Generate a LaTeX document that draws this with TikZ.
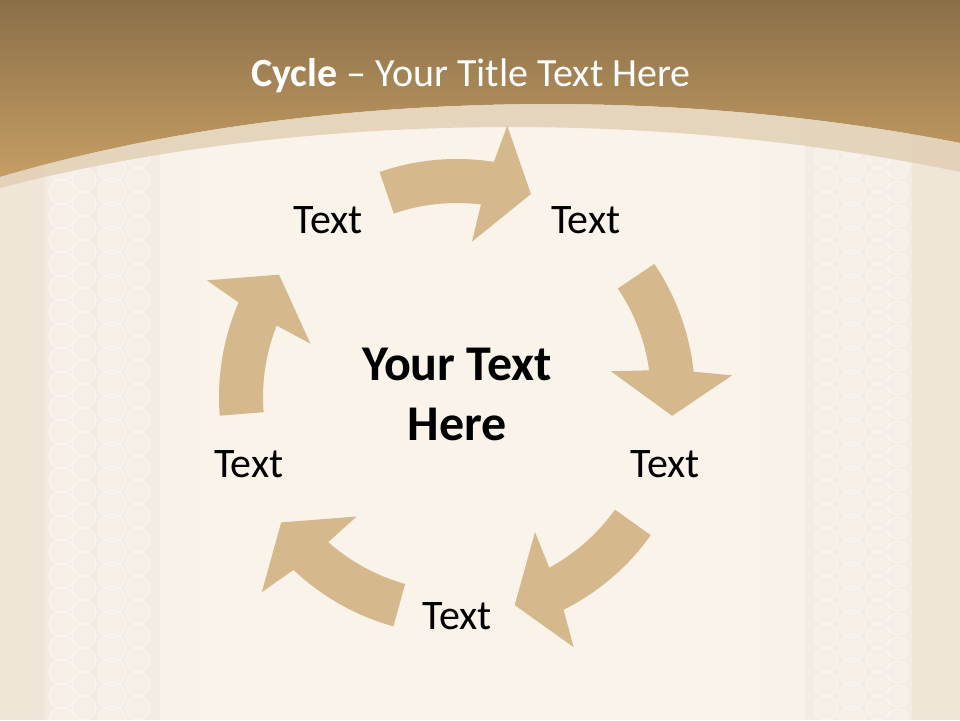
\documentclass[tikz,border=0pt]{standalone}
\usepackage{fontspec}
\setmainfont{Carlito}
\definecolor{arrowtan}{RGB}{213,185,140}
\definecolor{bandtop}{RGB}{138,111,72}
\definecolor{bandbottom}{RGB}{198,158,100}
\definecolor{bandlight}{RGB}{224,206,178}
\definecolor{paper}{RGB}{249,243,234}
\definecolor{paperdark}{RGB}{239,230,216}
\definecolor{lacebase}{RGB}{243,236,226}
\definecolor{stripe}{RGB}{248,242,234}

\begin{document}
\begin{tikzpicture}[x=1pt,y=1pt,
    cyclearrow/.style={fill=arrowtan},
    steplabel/.style={font=\fontsize{42}{50}\selectfont,text=black},
    lace/.style={draw=white,fill=white,fill opacity=0.18,draw opacity=0.4,line width=1}]
    \useasboundingbox (0,0) rectangle (960,720);
    % paper and lace strips
    \fill[paper] (0,0) rectangle (960,720);
    \fill[paperdark] (0,0) rectangle (45,720);
    \fill[lacebase] (45,0) rectangle (160,720);
    \fill[stripe] (160,0) rectangle (202,720);
    \fill[stripe] (757,0) rectangle (805,720);
    \fill[lacebase] (805,0) rectangle (912,720);
    \fill[paperdark] (912,0) rectangle (960,720);
    \foreach \y in {0,24,...,720} {
        \draw[lace] (62,\y) circle[radius=13];
        \draw[lace] (84,\y+12) circle[radius=12];
        \draw[lace] (112,\y) circle[radius=14];
        \draw[lace] (138,\y+12) circle[radius=12];
        \draw[lace] (826,\y+12) circle[radius=12];
        \draw[lace] (852,\y) circle[radius=14];
        \draw[lace] (878,\y+12) circle[radius=12];
        \draw[lace] (898,\y) circle[radius=11];
    }
    % top band
    \shade[top color=bandtop,bottom color=bandbottom] (0,720) -- (0,543)
        .. controls (280,625) and (640,640) .. (960,577) -- (960,720) -- cycle;
    \fill[bandlight,opacity=0.8] (0,543) .. controls (280,625) and (640,640) .. (960,577)
        -- (960,548) .. controls (640,615) and (280,605) .. (0,532) -- cycle;
    \node[text=white,font=\fontsize{40}{48}\selectfont,anchor=base] (title) at (471,633)
        {\textbf{Cycle} – Your Title Text Here};
    % cycle
    \begin{scope}[shift={(457,323)}]
        \foreach \c in {89.5,14.5,-55,-125,165} {
            \pgfmathsetmacro\tail{\c+19.5}
            \pgfmathsetmacro\hbout{\c-8.4}
            \pgfmathsetmacro\hbin{\c-6.6}
            \pgfmathsetmacro\cout{\c-10}
            \pgfmathsetmacro\cin{\c-5}
            \pgfmathsetmacro\tip{\c-19.5}
            \fill[cyclearrow] (\tail:238) arc[start angle=\tail,end angle=\hbout,radius=238]
                -- (\cout:276) -- (\tip:216) -- (\cin:156) -- (\hbin:194)
                arc[start angle=\hbin,end angle=\tail,radius=194] -- cycle;
        }
        \foreach \a/\n in {126/tl,54/tr,-18/rt,-90/bt,198/lt} {
            \node[steplabel] (\n) at (\a:219) {Text};
        }
        \node[font=\bfseries\fontsize{50}{60}\selectfont,align=center] (hub) at (0,3)
            {Your Text\\Here};
    \end{scope}
\end{tikzpicture}
\end{document}
